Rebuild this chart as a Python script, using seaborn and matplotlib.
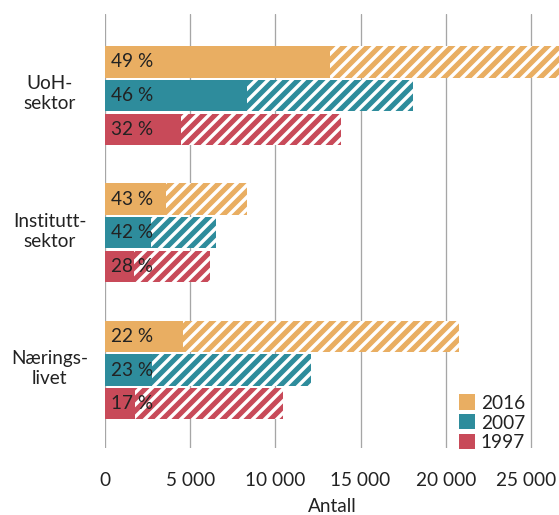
import matplotlib
matplotlib.use('Agg')
import matplotlib.pyplot as plt
import seaborn as sns
import pandas as pd
from matplotlib.patches import Patch
from matplotlib.transforms import blended_transform_factory, ScaledTranslation

# ---- data ----
sectors = ['UoH-\nsektor', 'Institutt-\nsektor', 'Nærings-\nlivet']
years = ['2016', '2007', '1997']
total_2016 = [26900, 8330, 20770]
total_2007 = [18100, 6490, 12070]
total_1997 = [13850, 6180, 10430]
pct_2016 = [49, 43, 22]
pct_2007 = [46, 42, 23]
pct_1997 = [32, 28, 17]
colors = ['#E9AE62', '#2E8C9C', '#C84A59']
xticks = [0, 5000, 10000, 15000, 20000, 25000]
xtick_labels = ['0', '5 000', '10 000', '15 000', '20 000', '25 000']

totals = {'2016': total_2016, '2007': total_2007, '1997': total_1997}
pcts = {'2016': pct_2016, '2007': pct_2007, '1997': pct_1997}

rows = []
for yr in years:
    for s, t, p in zip(sectors, totals[yr], pcts[yr]):
        rows.append({'sector': s, 'year': yr, 'total': t,
                     'women': t * p / 100.0, 'pct': p})
df = pd.DataFrame(rows)

sns.set_theme(style='white')
plt.rcParams['font.family'] = ['Lato', 'DejaVu Sans']
plt.rcParams['hatch.linewidth'] = 3.4
txt = '#222222'
FS = 19

W, H = 559, 515
fig = plt.figure(figsize=(W / 72, H / 72), dpi=72)
ax = fig.add_axes([105 / W, 1 - 448 / H, 1 - 105 / W, (448 - 14) / H])

common = dict(y='sector', hue='year', hue_order=years, order=sectors,
              palette=colors, orient='h', width=0.736, gap=0.07,
              errorbar=None, saturation=1, legend=False, ax=ax)

sns.barplot(data=df, x='total', **common)
n_hatched = len(ax.patches)
for p in ax.patches:
    p.set_hatch('//')
    p.set_edgecolor('white')
    p.set_linewidth(0)

sns.barplot(data=df, x='women', **common)
solid = ax.patches[n_hatched:]
lab = {round(r.women, 3): r.pct for r in df.itertuples()}
for p in solid:
    p.set_edgecolor('none')
    p.set_linewidth(0)
    w = round(p.get_width(), 3)
    if w in lab:
        ax.text(380, p.get_y() + p.get_height() / 2, f'{lab[w]} %',
                ha='left', va='center', fontsize=FS, color=txt)

ax.set_xlim(0, 26650)
ax.set_ylim(2.568, -0.594)
ax.set_xticks(xticks)
ax.set_xticklabels(xtick_labels)
ax.set_yticks(range(len(sectors)))
ax.set_yticklabels([])
ax.tick_params(axis='x', length=0, pad=24, labelsize=FS, colors=txt)
ax.tick_params(axis='y', length=0)
last = ax.get_xticklabels()[-1]
last.set_transform(last.get_transform() + ScaledTranslation(-5 / 72, 0, fig.dpi_scale_trans))
ax.grid(axis='x', color='#A6A6A6', linewidth=1.3)
ax.grid(axis='y', visible=False)
ax.set_axisbelow(True)
for sp in ax.spines.values():
    sp.set_visible(False)
ax.set_ylabel('')
ax.set_xlabel('Antall', fontsize=FS, color=txt, labelpad=9)

tr = blended_transform_factory(fig.transFigure, ax.transData)
for i, s in enumerate(sectors):
    ax.text(49.5 / W, i - 0.012, s, transform=tr, ha='center', va='center',
            multialignment='center', fontsize=FS, color=txt, linespacing=1.22)

handles = [Patch(facecolor=c, edgecolor='none') for c in colors]
ax.legend(handles, years, loc='lower right',
          bbox_to_anchor=((525 - 105) / (W - 105), -0.008),
          frameon=False, fontsize=FS, labelspacing=0.15,
          handlelength=0.84, handleheight=0.84, handletextpad=0.32,
          borderpad=0, borderaxespad=0, labelcolor=txt)

fig.savefig('out.png', dpi=72)
